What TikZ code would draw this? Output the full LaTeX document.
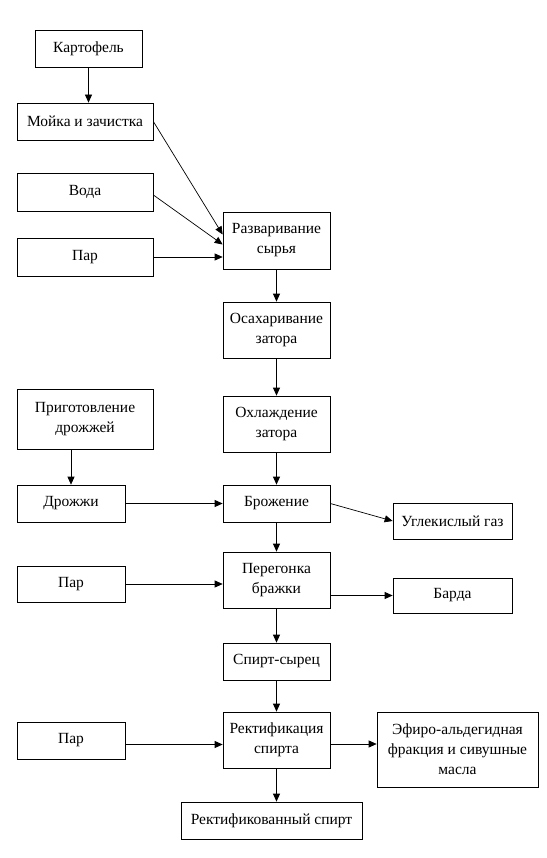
\documentclass[tikz,border=0pt]{standalone}
\usepackage{fontspec}
\setmainfont{Liberation Serif}
\usetikzlibrary{arrows.meta}
\begin{document}
\begin{tikzpicture}[x=1pt,y=-1pt,line width=0.7pt,
  box/.style={draw,inner sep=0pt,align=center,font=\fontsize{15.5}{20}\selectfont},
  arr/.style={-{Triangle[length=8pt,width=7pt]}}]
\useasboundingbox (0,0) rectangle (546,858);

\node[box,minimum width=107,minimum height=37] (kart) at (88.5,48.5) {Картофель};
\node[box,minimum width=136,minimum height=37] (mojka) at (85,121.5) {Мойка и зачистка};
\node[box,minimum width=136,minimum height=38] (voda) at (85,192) {Вода};
\node[box,minimum width=136,minimum height=38] (par1) at (85,257) {Пар};
\node[box,minimum width=107,minimum height=57] (razv) at (276.5,240.5) {Разваривание\\сырья};
\node[box,minimum width=107,minimum height=56] (osah) at (276.5,330) {Осахаривание\\затора};
\node[box,minimum width=107,minimum height=56] (ohl) at (276.5,424) {Охлаждение\\затора};
\node[box,minimum width=136,minimum height=60] (prig) at (85,419) {Приготовление\\дрожжей};
\node[box,minimum width=108,minimum height=37] (drozh) at (71,503.5) {Дрожжи};
\node[box,minimum width=107,minimum height=37] (brozh) at (276.5,503.5) {Брожение};
\node[box,minimum width=119,minimum height=36] (ugl) at (452.5,521) {Углекислый газ};
\node[box,minimum width=107,minimum height=56] (perego) at (276.5,580) {Перегонка\\бражки};
\node[box,minimum width=108,minimum height=36] (par2) at (71,584) {Пар};
\node[box,minimum width=119,minimum height=35] (barda) at (452.5,595.5) {Барда};
\node[box,minimum width=107,minimum height=37] (syrec) at (276.5,661.5) {Спирт-сырец};
\node[box,minimum width=107,minimum height=56] (rektif) at (276.5,740) {Ректификация\\спирта};
\node[box,minimum width=108,minimum height=37] (par3) at (71,740.5) {Пар};
\node[box,minimum width=161,minimum height=75] (efir) at (457.5,749.5) {Эфиро-альдегидная\\фракция и сивушные\\масла};
\node[box,minimum width=181,minimum height=37] (rspirt) at (271.5,820.5) {Ректификованный спирт};

\draw[arr] (kart) -- (kart |- mojka.north);
\draw[arr] (mojka.east) -- ([yshift=6]razv.west);
\draw[arr] ([yshift=-3]voda.east) -- ([yshift=-4]razv.west);
\draw[arr] (par1.east) -- (par1.east -| razv.west);
\draw[arr] (razv) -- (osah);
\draw[arr] (osah) -- (ohl);
\draw[arr] (ohl) -- (brozh);
\draw[arr] (prig.south -| drozh) -- (drozh);
\draw[arr] (drozh) -- (brozh);
\draw[arr] (brozh.east) -- (ugl.west);
\draw[arr] (brozh) -- (perego);
\draw[arr] (par2.east) -- (par2.east -| perego.west);
\draw[arr] (barda.west -| perego.east) -- (barda.west);
\draw[arr] (perego) -- (syrec);
\draw[arr] (syrec) -- (rektif);
\draw[arr] ([yshift=-4]par3.east) -- ([yshift=-4]par3.east -| rektif.west);
\draw[arr] ([yshift=-4]rektif.east) -- ([yshift=-4]rektif.east -| efir.west);
\draw[arr] (rektif) -- (rektif |- rspirt.north);

\end{tikzpicture}
\end{document}
